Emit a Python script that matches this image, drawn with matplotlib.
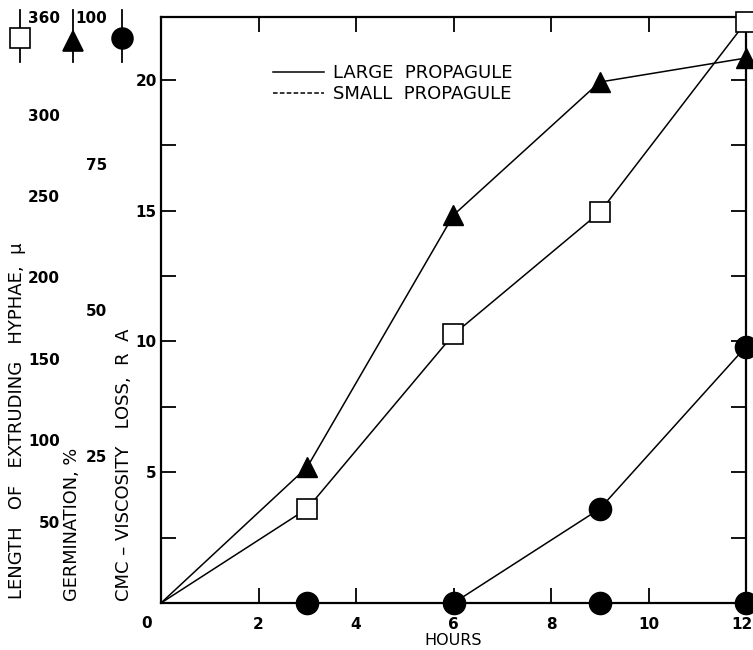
import matplotlib
matplotlib.use("Agg")
import matplotlib.pyplot as plt
from matplotlib.lines import Line2D
from matplotlib.transforms import ScaledTranslation

plt.rcParams['font.family'] = ['DejaVu Sans']

# data
hours = [0, 3, 6, 9, 12]
hyphae_large = [0, 58, 165, 240, 357]        # length of extruding hyphae, mu
germ_large = [0, 23.2, 66.2, 88.9, 93.0]     # germination, %
cmc_large = [0, 0, 0, 3.6, 9.8]              # CMC viscosity loss, RA
cmc_small = [0, 0, 0, 0, 0]

cmc_ticks = [5, 10, 15, 20]
hyphae_ticks = [50, 100, 150, 200, 250, 300, 360]
germ_ticks = [25, 50, 75, 100]
hour_ticks = [2, 4, 6, 8, 10, 12]

W, H = 753, 650
fig = plt.figure(figsize=(W / 100, H / 100), dpi=100)
ax = fig.add_axes([161 / W, 47 / H, 585 / W, 586 / H])
ax.set_xlim(0, 12)
ax.set_ylim(0, 22.4)

lw = 1.1
# CMC viscosity loss (primary axis)
ax.plot(hours, cmc_small, color='black', lw=lw, ls=(0, (3, 1.5)), zorder=3)
ax.plot(hours, cmc_large, color='black', lw=lw, marker='o', ms=16,
        markevery=[1, 2, 3, 4], clip_on=False, zorder=4)
ax.plot(hours, cmc_small, color='none', marker='o', ms=16, mfc='black',
        mec='black', markevery=[3, 4], clip_on=False, zorder=4)

# germination
ax_g = ax.twinx()
ax_g.set_ylim(0, 100)
ax_g.plot(hours, germ_large, color='black', lw=lw, marker='^', ms=15,
          markevery=[1, 2, 3, 4], clip_on=False, zorder=4)

# hyphae length
ax_h = ax.twinx()
ax_h.set_ylim(0, 360)
ax_h.plot(hours, hyphae_large, color='black', lw=lw, marker='s', ms=14,
          mfc='white', mec='black', mew=1.2, markevery=[1, 2, 3, 4],
          clip_on=False, zorder=5)

for a in (ax_g, ax_h):
    for s in a.spines.values():
        s.set_visible(False)
    a.yaxis.tick_left()
    a.set_xticks([])

ax_h.set_yticks(hyphae_ticks)
ax_h.tick_params(axis='y', length=0, pad=73, labelsize=11)
ax_g.set_yticks(germ_ticks)
ax_g.tick_params(axis='y', length=0, pad=39, labelsize=11)
for lab in ax_h.get_yticklabels() + ax_g.get_yticklabels():
    lab.set_fontweight('bold')

# main frame
for s in ax.spines.values():
    s.set_linewidth(1.6)
ax.set_xticks(hour_ticks)
ax.set_yticks(cmc_ticks)
ax.set_yticks([2.5, 7.5, 12.5, 17.5], minor=True)
ax.tick_params(which='both', direction='in', top=True, right=True,
               length=11, width=1.3, labelsize=11)
ax.tick_params(axis='x', pad=10)
ax.tick_params(axis='y', pad=3)
for lab in ax.get_xticklabels() + ax.get_yticklabels():
    lab.set_fontweight('bold')
last = ax.get_xticklabels()[-1]
last.set_transform(last.get_transform() +
                   ScaledTranslation(-4 / 100, 0, fig.dpi_scale_trans))
ax.annotate('0', xy=(0, 0), xycoords='data', xytext=(-14, -20),
            textcoords='offset pixels', ha='center', va='center',
            fontsize=11, fontweight='bold')
ax.set_xlabel('HOURS', fontsize=11.5, labelpad=1)

# axis titles
fig.text(17 / W, 1 - 421 / H, 'LENGTH   OF   EXTRUDING   HYPHAE,  \u03bc',
         rotation=90, ha='center', va='center', fontsize=13)
fig.text(72 / W, 1 - 524 / H, 'GERMINATION, %', rotation=90,
         ha='center', va='center', fontsize=12.8)
fig.text(124 / W, 1 - 465 / H, 'CMC \u2013 VISCOSITY   LOSS,  R  A', rotation=90,
         ha='center', va='center', fontsize=13)

# scale keys at the top left
for x, y, m, face, ms in [(20, 38, 's', 'white', 14), (73, 41, '^', 'black', 15),
                          (122, 38, 'o', 'black', 15)]:
    fig.add_artist(Line2D([x / W, x / W], [1 - 10 / H, 1 - 62 / H],
                          transform=fig.transFigure, color='black', lw=1.3))
    fig.add_artist(Line2D([x / W], [1 - y / H], transform=fig.transFigure,
                          marker=m, ms=ms, mfc=face, mec='black', mew=1.2))

# legend
handles = [Line2D([], [], color='black', lw=lw),
           Line2D([], [], color='black', lw=lw, ls=(0, (3, 1.5)))]
ax.legend(handles, ['LARGE  PROPAGULE', 'SMALL  PROPAGULE'], loc='upper left',
          bbox_to_anchor=(0.176, 0.935), frameon=False, fontsize=13,
          handlelength=2.8, handletextpad=0.55, labelspacing=0.15, borderpad=0)

fig.savefig('out.png', dpi=100)
